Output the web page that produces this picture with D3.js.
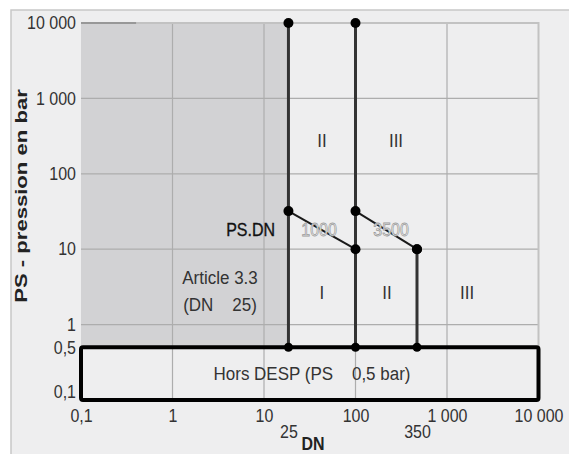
<!DOCTYPE html>
<html>
<head>
<meta charset="utf-8">
<script src="https://cdn.jsdelivr.net/npm/d3@7"></script>
<style>
  body { margin: 0; background: #fff; }
  svg { display: block; font-family: 'Liberation Sans', Arial, sans-serif; }
</style>
</head>
<body>
<svg width="569" height="454"></svg>
<script>
// decades on both log axes
let xTicks = [0.1, 1, 10, 100, 1000, 10000]
let yTicks = [0.1, 0.5, 1, 10, 100, 1000, 10000]
// DN 25 and DN 350 marks, placed where the picture draws them
let dnMarks = [18.5, 470]
let dnMarkLabels = ['25', '350']

// category boundaries (DN, PS)
let boundaries = [
  [[18.5, 0.5], [18.5, 10000]],
  [[18.5, 32], [100, 10]],
  [[100, 0.5], [100, 10000]],
  [[100, 32], [470, 10]],
  [[470, 0.5], [470, 10]]
]

// category labels (DN, PS, text)
let categories = [
  [43, 280, 'II'],
  [277, 280, 'III'],
  [43, 2.7, 'I'],
  [221, 2.7, 'II'],
  [1655, 2.7, 'III']
]
// PS.DN limits (DN where written, text)
let productLabels = [[40, '1000'], [245, '3500']]

let width = 569
let height = 454
let margin = { top: 23, right: 31, bottom: 54, left: 81 }
let stretchY = 1.12

let fr = d3.formatLocale({ decimal: ',', thousands: ' ', grouping: [3], currency: ['', ''] })
let fmt = fr.format(',')

let xScale = d3.scaleLog()
  .domain([0.1, 10000])
  .range([margin.left, width - margin.right + 0.5])
let yScale = d3.scaleLog()
  .domain([0.1, 10000])
  .range([height - margin.bottom, margin.top])

// the source picture is squeezed horizontally, so text is drawn a bit taller
function stretch(sel, k) {
  sel.each(function () {
    let t = d3.select(this)
    let x = +t.attr('x') || 0
    let y = +t.attr('y') || 0
    t.attr('x', null).attr('y', null)
      .attr('transform', `translate(${x},${y}) scale(1,${k})`)
  })
}

let svg = d3.select('svg')

// panel
svg.append('rect')
  .attr('x', 11).attr('y', 10)
  .attr('width', width).attr('height', height)
  .attr('fill', '#eeeeef')
  .attr('stroke', '#c8c8c8')
  .attr('stroke-width', 1.5)

// shaded zone (Article 3.3)
svg.append('rect')
  .attr('x', xScale(0.1))
  .attr('y', yScale(10000))
  .attr('width', xScale(dnMarks[0]) - xScale(0.1))
  .attr('height', yScale(0.5) - yScale(10000))
  .attr('fill', '#d2d2d4')

// grid
let grid = svg.append('g').attr('stroke', '#adadad').attr('stroke-width', 1.2)
grid.selectAll('line.v')
  .data(xTicks.slice(1, -1))
  .enter().append('line')
  .attr('x1', d => xScale(d)).attr('x2', d => xScale(d))
  .attr('y1', yScale(10000)).attr('y2', yScale(0.1))
grid.selectAll('line.h')
  .data([1, 10, 100, 1000])
  .enter().append('line')
  .attr('x1', xScale(0.1)).attr('x2', xScale(10000))
  .attr('y1', d => yScale(d)).attr('y2', d => yScale(d))

svg.append('path')
  .attr('d', `M${xScale(0.1)},${yScale(10000)}H${xScale(10000)}V${yScale(0.5)}`)
  .attr('stroke', '#c2c2c2').attr('stroke-width', 2).attr('fill', 'none')
svg.append('line')
  .attr('x1', xScale(0.1)).attr('x2', xScale(0.4))
  .attr('y1', yScale(10000)).attr('y2', yScale(10000))
  .attr('stroke', '#8a8a8a').attr('stroke-width', 1.5)

// Hors DESP box
svg.append('rect')
  .attr('x', xScale(0.1))
  .attr('y', yScale(0.5))
  .attr('width', xScale(10000) - xScale(0.1))
  .attr('height', yScale(0.1) - yScale(0.5))
  .attr('rx', 2)
  .attr('fill', 'none')
  .attr('stroke', '#000')
  .attr('stroke-width', 4)

// boundaries
let line = d3.line()
  .x(d => xScale(d[0]))
  .y(d => yScale(d[1]))

svg.append('g')
  .selectAll('path')
  .data(boundaries)
  .enter().append('path')
  .attr('d', line)
  .attr('fill', 'none')
  .attr('stroke', d => d[0][0] === d[1][0] ? '#333' : '#1a1a1a')
  .attr('stroke-width', d => d[0][0] === d[1][0] ? 3 : 2)

svg.append('g')
  .selectAll('circle')
  .data(boundaries.flat())
  .enter().append('circle')
  .attr('cx', d => xScale(d[0]))
  .attr('cy', d => yScale(d[1]))
  .attr('r', d => d[1] < 1 ? 4.5 : 5)
  .attr('fill', '#000')

// axes
let yAxis = d3.axisLeft(yScale)
  .tickValues(yTicks)
  .tickFormat(fmt)
  .tickSize(0)
  .tickPadding(5)
svg.append('g')
  .attr('transform', `translate(${margin.left},0)`)
  .call(yAxis)
  .call(g => g.select('.domain').remove())
  .call(g => g.selectAll('.tick text').attr('y', d => d < 0.5 ? -8 : 0))

let xAxis = d3.axisBottom(xScale)
  .tickValues(xTicks)
  .tickFormat(fmt)
  .tickSize(0)
  .tickPadding(9)
svg.append('g')
  .attr('transform', `translate(0,${yScale(0.1)})`)
  .call(xAxis)
  .call(g => g.select('.domain').remove())

let xAxis2 = d3.axisBottom(xScale)
  .tickValues(dnMarks)
  .tickFormat((d, i) => dnMarkLabels[i])
  .tickSize(0)
  .tickPadding(25)
svg.append('g')
  .attr('transform', `translate(0,${yScale(0.1)})`)
  .call(xAxis2)
  .call(g => g.select('.domain').remove())

svg.selectAll('.tick text')
  .attr('font-family', 'Liberation Sans, Arial, sans-serif')
  .attr('font-size', 16)
  .attr('fill', '#333')

// axis titles
svg.append('text')
  .attr('class', 'st')
  .attr('x', 313).attr('y', 450)
  .attr('text-anchor', 'middle')
  .attr('font-size', 16).attr('font-weight', 'bold')
  .attr('fill', '#222')
  .text('DN')

svg.append('text')
  .attr('transform', 'translate(27,196) scale(1,1.3) rotate(-90)')
  .attr('text-anchor', 'middle')
  .attr('font-size', 17).attr('font-weight', 'bold')
  .attr('fill', '#222')
  .text('PS - pression en bar')

// labels
svg.append('g')
  .selectAll('text')
  .data(categories)
  .enter().append('text')
  .attr('class', 'st')
  .attr('x', d => xScale(d[0]))
  .attr('y', d => yScale(d[1]))
  .attr('dy', '0.35em')
  .attr('text-anchor', 'middle')
  .attr('font-size', 17)
  .attr('fill', '#333')
  .text(d => d[2])

svg.append('text')
  .attr('class', 'st')
  .attr('x', 275).attr('y', 230).attr('dy', '0.35em')
  .attr('text-anchor', 'end')
  .attr('font-size', 16)
  .attr('fill', '#111')
  .attr('stroke', '#111').attr('stroke-width', 0.3)
  .text('PS.DN')

svg.append('g')
  .selectAll('text')
  .data(productLabels)
  .enter().append('text')
  .attr('class', 'st')
  .attr('x', d => xScale(d[0]))
  .attr('y', 230)
  .attr('dy', '0.35em')
  .attr('text-anchor', 'middle')
  .attr('font-size', 16)
  .attr('fill', '#f6f6f6')
  .attr('stroke', '#9a9a9a')
  .attr('stroke-width', 0.7)
  .text(d => d[1])

svg.append('text')
  .attr('class', 'st')
  .attr('x', 220).attr('y', 277).attr('dy', '0.35em')
  .attr('text-anchor', 'middle')
  .attr('font-size', 17).attr('fill', '#333')
  .text('Article 3.3')
svg.append('text')
  .attr('class', 'st')
  .attr('x', 220).attr('y', 304).attr('dy', '0.35em')
  .attr('text-anchor', 'middle')
  .attr('font-size', 17).attr('fill', '#333')
  .style('white-space', 'pre')
  .text('(DN    25)')

svg.append('text')
  .attr('class', 'st')
  .attr('x', 312).attr('y', 373).attr('dy', '0.35em')
  .attr('text-anchor', 'middle')
  .attr('font-size', 17).attr('fill', '#333')
  .style('white-space', 'pre')
  .text('Hors DESP (PS    0,5 bar)')

stretch(svg.selectAll('.tick text, text.st'), stretchY)
</script>
</body>
</html>
